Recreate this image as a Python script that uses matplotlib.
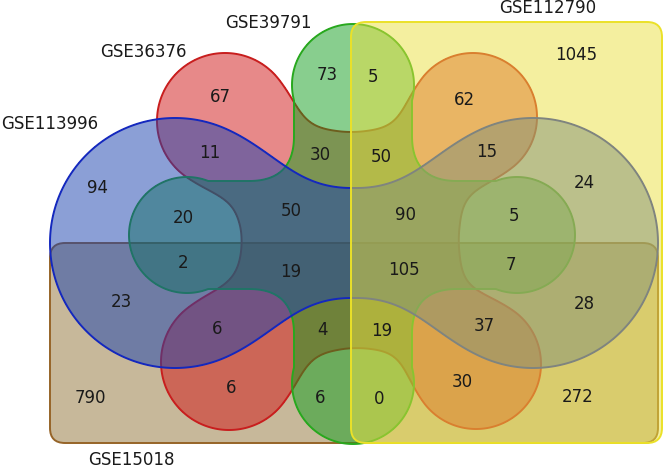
import numpy as np
import matplotlib.pyplot as plt
from matplotlib.patches import FancyBboxPatch

# set names
names = ["GSE112790", "GSE15018", "GSE113996", "GSE39791", "GSE36376"]

# region counts and where they sit
counts = [1045, 73, 5, 62, 67, 11, 30, 50, 15, 94, 20, 50, 90, 5, 24,
          2, 19, 105, 7, 23, 28, 6, 4, 19, 37, 790, 6, 6, 0, 30, 272]
count_x = [576, 327, 373, 464, 220, 210, 320, 381, 487, 98, 183, 291, 405, 514, 584,
           183, 291, 404, 511, 121, 584, 217, 323, 382, 484, 90, 231, 320, 379, 462, 578]
count_y = [55, 75, 77, 100, 97, 153, 155, 157, 152, 188, 218, 211, 215, 216, 183,
           263, 272, 270, 265, 302, 304, 329, 330, 331, 326, 398, 388, 398, 399, 382, 397]

W, H = 665, 469
fig = plt.figure(figsize=(W / 100, H / 100), dpi=100)
ax = fig.add_axes([0, 0, 1, 1])
ax.set_xlim(0, W)
ax.set_ylim(H, 0)
ax.axis("off")

X, Y = np.meshgrid(np.linspace(0, W, 2 * W + 1), np.linspace(0, H, 2 * H + 1))


def circle(cx, cy, r):
    return np.hypot(X - cx, Y - cy) - r


def capsule(x0, y0, x1, y1, r):
    dx, dy = x1 - x0, y1 - y0
    t = np.clip(((X - x0) * dx + (Y - y0) * dy) / (dx * dx + dy * dy), 0, 1)
    return np.hypot(X - x0 - t * dx, Y - y0 - t * dy) - r


def smin(a, b, k):
    h = np.clip(0.5 + 0.5 * (b - a) / k, 0, 1)
    return b * (1 - h) + a * h - k * h * (1 - h)


# blue: horizontal dumbbell
blue = smin(np.minimum(circle(175, 243, 125), circle(533, 243, 125)),
            capsule(175, 243, 533, 243, 55), 60)

# green: four lobes on the axes
g_vert = np.minimum(capsule(353, 85, 353, 383, 59),
                    np.minimum(circle(353, 85, 61), circle(353, 383, 61)))
g_horz = np.minimum(capsule(187, 235, 517, 235, 54),
                    np.minimum(circle(187, 235, 58), circle(517, 235, 58)))
green = smin(g_vert, g_horz, 45)

# red: centre body with four diagonal lobes
red = circle(351, 240, 107)
for cx, cy, r in [(225, 121, 68), (473, 117, 64), (229, 362, 68), (476, 364, 65)]:
    red = smin(red, circle(cx, cy, r), 70)


def blob(field, fill, edge, z):
    ax.contourf(X, Y, field, levels=[field.min() - 1, 0], colors=[fill], alpha=0.5, zorder=z)
    ax.contour(X, Y, field, levels=[0], colors=[edge], linewidths=1.4, zorder=z + 0.5)


def box(x0, y0, x1, y1, fill, edge, z):
    ax.add_patch(FancyBboxPatch((x0, y0), x1 - x0, y1 - y0,
                                boxstyle="round,pad=0,rounding_size=15",
                                facecolor=fill, alpha=0.5, edgecolor="none", zorder=z))
    ax.add_patch(FancyBboxPatch((x0, y0), x1 - x0, y1 - y0,
                                boxstyle="round,pad=0,rounding_size=15",
                                facecolor="none", edgecolor=edge, lw=1.4, zorder=z + 0.5))


box(50, 243, 658, 443, "#917337", "#966428", 1)
blob(red, "#d11515", "#c81e1e", 2)
blob(green, "#139f1f", "#28a81e", 3)
blob(blue, "#1941af", "#1428be", 4)
box(351, 22, 662, 443, "#ebe141", "#ebe128", 5)

for v, x, y in zip(counts, count_x, count_y):
    ax.text(x, y, str(v), ha="center", va="center", fontsize=12, color="#1a1a1a", zorder=10)

label_pos = [(548, 8), (131, 460), (50, 124), (268, 23), (143, 52)]
for n, (x, y) in zip(names, label_pos):
    ax.text(x, y, n, ha="center", va="center", fontsize=12, color="#1a1a1a", zorder=10)

fig.savefig("out.png", dpi=100)
